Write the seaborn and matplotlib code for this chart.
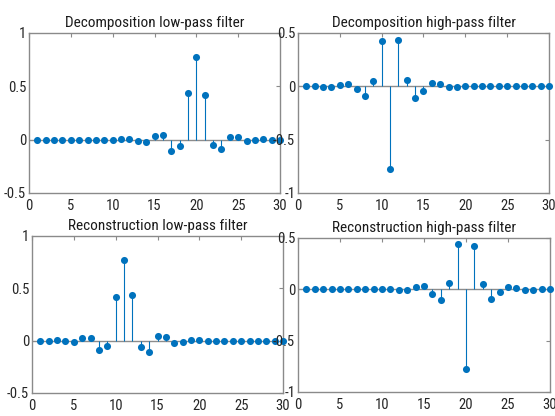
import matplotlib
matplotlib.use("Agg")
import matplotlib.pyplot as plt
import numpy as np
import pandas as pd
import seaborn as sns
from matplotlib.ticker import FuncFormatter

sns.set_theme(style="white")
plt.rcParams["font.family"] = ["Liberation Sans Narrow", "Roboto Condensed",
                               "Liberation Sans", "DejaVu Sans"]
plt.rcParams["axes.unicode_minus"] = False

# Filter tap index (1..30)
taps = list(range(1, 31))

# Coiflet-5 wavelet filter coefficients
dec_lo = [-0.000000, -0.000000, 0.000002, 0.000004, -0.000021, -0.000041,
          0.000141, 0.000302, -0.000638, -0.001663, 0.002433, 0.006764,
          -0.009164, -0.019762, 0.032684, 0.041289, -0.105574, -0.062036,
          0.437992, 0.774290, 0.421566, -0.052043, -0.091920, 0.028168,
          0.023408, -0.010131, -0.004159, 0.002178, 0.000359, -0.000212]

dec_hi = [0.000212, 0.000359, -0.002178, -0.004159, 0.010131, 0.023408,
          -0.028168, -0.091920, 0.052043, 0.421566, -0.774290, 0.437992,
          0.062036, -0.105574, -0.041289, 0.032684, 0.019762, -0.009164,
          -0.006764, 0.002433, 0.001663, -0.000638, -0.000302, 0.000141,
          0.000041, -0.000021, -0.000004, 0.000002, 0.000000, -0.000000]

rec_lo = [-0.000212, 0.000359, 0.002178, -0.004159, -0.010131, 0.023408,
          0.028168, -0.091920, -0.052043, 0.421566, 0.774290, 0.437992,
          -0.062036, -0.105574, 0.041289, 0.032684, -0.019762, -0.009164,
          0.006764, 0.002433, -0.001663, -0.000638, 0.000302, 0.000141,
          -0.000041, -0.000021, 0.000004, 0.000002, -0.000000, -0.000000]

rec_hi = [-0.000000, 0.000000, 0.000002, -0.000004, -0.000021, 0.000041,
          0.000141, -0.000302, -0.000638, 0.001663, 0.002433, -0.006764,
          -0.009164, 0.019762, 0.032684, -0.041289, -0.105574, 0.062036,
          0.437992, -0.774290, 0.421566, 0.052043, -0.091920, -0.028168,
          0.023408, 0.010131, -0.004159, -0.002178, 0.000359, 0.000212]

x_ticks = [0, 5, 10, 15, 20, 25, 30]
yticks_lo = [-0.5, 0, 0.5, 1]
yticks_hi = [-1, -0.5, 0, 0.5]

blue = "#0072BD"
frame = "#8a8a8a"

panels = [
    ("Decomposition low-pass filter", dec_lo, (-0.5, 1), yticks_lo,
     [0.0523, 0.5361, 0.4523, 0.3846]),
    ("Decomposition high-pass filter", dec_hi, (-1, 0.5), yticks_hi,
     [0.5369, 0.5361, 0.4523, 0.3846]),
    ("Reconstruction low-pass filter", rec_lo, (-0.5, 1), yticks_lo,
     [0.0577, 0.0553, 0.4523, 0.3774]),
    ("Reconstruction high-pass filter", rec_hi, (-1, 0.5), yticks_hi,
     [0.5369, 0.0577, 0.4540, 0.3702]),
]

fig = plt.figure(figsize=(5.55, 4.16), dpi=100)
fig.patch.set_facecolor("white")

for title, vals, ylim, yt, rect in panels:
    ax = fig.add_axes(rect)
    df = pd.DataFrame({"n": taps, "h": vals})
    # stems, baseline and filled heads
    ax.vlines(df["n"], 0, df["h"], color=blue, lw=0.8, zorder=2)
    ax.axhline(0, color="#8c8c8c", lw=1.0, zorder=1.5)
    sns.scatterplot(data=df, x="n", y="h", ax=ax, color=blue, s=26,
                    edgecolor=blue, linewidth=0, zorder=3, clip_on=False,
                    legend=False)
    ax.set_xlim(0, 30)
    ax.set_ylim(*ylim)
    ax.set_xticks(x_ticks)
    ax.set_yticks(yt)
    ax.yaxis.set_major_formatter(FuncFormatter(lambda v, p: f"{v:g}"))
    ax.set_xlabel("")
    ax.set_ylabel("")
    ax.set_title(title, fontsize=11, pad=4, color="#1a1a1a")
    ax.tick_params(axis="both", direction="in", length=3, width=0.8,
                   color=frame, top=True, right=True, labelsize=10.5,
                   labelcolor="#262626")
    ax.tick_params(axis="x", pad=4)
    ax.tick_params(axis="y", pad=2)
    for s in ax.spines.values():
        s.set_color(frame)
        s.set_linewidth(1.0)
    ax.set_facecolor("white")

fig.savefig("out.png", dpi=100, facecolor="white")
